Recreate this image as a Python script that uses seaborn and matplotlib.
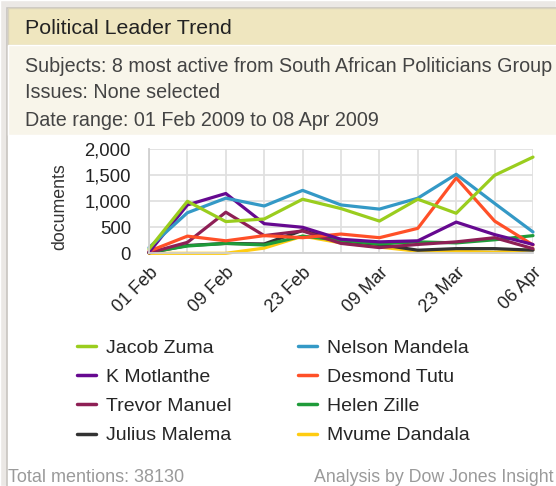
import matplotlib
matplotlib.use("Agg")
import matplotlib.pyplot as plt
from matplotlib.patches import Rectangle
from matplotlib.ticker import MultipleLocator, FuncFormatter
import numpy as np
import pandas as pd
import seaborn as sns

# weekly buckets (first one is the partial week starting Sunday 01 Feb)
WEEKS = ["01 Feb", "02 Feb", "09 Feb", "16 Feb", "23 Feb", "02 Mar",
         "09 Mar", "16 Mar", "23 Mar", "30 Mar", "06 Apr"]

zuma      = [80, 1000, 610, 660, 1040, 860, 620, 1040, 770, 1500, 1850]
mandela   = [110, 780, 1060, 910, 1210, 930, 850, 1060, 1520, 960, 410]
motlanthe = [20, 930, 1150, 570, 500, 270, 220, 240, 600, 360, 170]
tutu      = [40, 330, 240, 340, 300, 370, 300, 480, 1450, 620, 160]
manuel    = [10, 210, 790, 340, 430, 190, 110, 170, 220, 300, 90]
zille     = [20, 140, 190, 160, 330, 250, 180, 220, 200, 260, 340]
malema    = [10, 150, 190, 180, 440, 240, 170, 60, 90, 90, 60]
dandala   = [0, 0, 0, 100, 330, 200, 120, 40, 40, 20, 70]

SERIES = {
    "Jacob Zuma": zuma,
    "Nelson Mandela": mandela,
    "K Motlanthe": motlanthe,
    "Desmond Tutu": tutu,
    "Trevor Manuel": manuel,
    "Helen Zille": zille,
    "Julius Malema": malema,
    "Mvume Dandala": dandala,
}
COLOURS = {
    "Jacob Zuma": "#9ACD1E",
    "Nelson Mandela": "#3499C6",
    "K Motlanthe": "#660990",
    "Desmond Tutu": "#FF5028",
    "Trevor Manuel": "#8E1F55",
    "Helen Zille": "#1F9B3A",
    "Julius Malema": "#333333",
    "Mvume Dandala": "#FFCC11",
}

rows = []
for name, vals in SERIES.items():
    for i, v in enumerate(vals):
        rows.append({"pos": i, "week": WEEKS[i], "leader": name, "documents": v})
df = pd.DataFrame(rows)

sns.set_style("white")
plt.rcParams["font.family"] = ["Liberation Sans", "DejaVu Sans"]

W, H = 556, 486
fig = plt.figure(figsize=(W / 100, H / 100), dpi=100)
fig.patch.set_facecolor("white")


def box(x0, y0, x1, y1, colour, **kw):
    # pixel coords from top-left
    fig.patches.append(Rectangle((x0 / W, 1 - y1 / H), (x1 - x0) / W, (y1 - y0) / H,
                                 transform=fig.transFigure, facecolor=colour,
                                 zorder=-10, **kw))


box(0, 0, W, H, "#ebe8e5")
box(7, 8, W + 5, H + 5, "white", edgecolor="#c8c5c0", linewidth=1.2)
box(7.5, 8.5, W + 5, 45, "#efe6bf", edgecolor="#d8d2bc", linewidth=1)
box(7.5, 45.5, W + 5, 135, "#f8f5ea")

fig.text(25 / W, 1 - 28 / H, "Political Leader Trend", fontsize=15.4, color="#222222",
         va="center", ha="left")
info = ["Subjects: 8 most active from South African Politicians Group",
        "Issues: None selected",
        "Date range: 01 Feb 2009 to 08 Apr 2009"]
for k, line in enumerate(info):
    fig.text(25 / W, 1 - (66 + 27 * k) / H, line, fontsize=14.2, color="#444444",
             va="center", ha="left")

fig.text(8 / W, 1 - 477 / H, "Total mentions: 38130", fontsize=13, color="#9a9a9a",
         va="center", ha="left")
fig.text(314 / W, 1 - 477 / H, "Analysis by Dow Jones Insight", fontsize=12.8,
         color="#9a9a9a", va="center", ha="left")

ax = fig.add_axes([149 / W, 1 - 253.3 / H, (533 - 149) / W, (253.3 - 149.3) / H])
ax.set_facecolor("none")

order = list(SERIES.keys())[::-1]  # draw Zuma last so it sits on top
sns.lineplot(data=df, x="pos", y="documents", hue="leader", hue_order=order,
             palette=COLOURS, linewidth=2.3, ax=ax, legend=True)
for ln in ax.get_lines():
    ln.set_clip_on(False)

handles, labels = ax.get_legend_handles_labels()
ax.get_legend().remove()
lookup = dict(zip(labels, handles))
col_order = ["Jacob Zuma", "K Motlanthe", "Trevor Manuel", "Julius Malema",
             "Nelson Mandela", "Desmond Tutu", "Helen Zille", "Mvume Dandala"]
leg = fig.legend([lookup[n] for n in col_order], col_order, loc="upper left",
                 bbox_to_anchor=(77 / W, 1 - 339 / H), ncol=2, frameon=False,
                 fontsize=14, handlelength=1.0, handletextpad=0.5,
                 columnspacing=3.4, labelspacing=0.6, borderpad=0, borderaxespad=0)
for ln in leg.get_lines():
    ln.set_linewidth(2.5)

ax.set_xlim(0, len(WEEKS) - 1)
ax.set_ylim(0, 2000)
ax.set_xticks(range(0, len(WEEKS), 2))
ax.set_xticklabels(WEEKS[::2], rotation=45, ha="right", rotation_mode="anchor",
                   fontsize=13, color="#222222")
ax.set_xticks(range(len(WEEKS)), minor=True)
ax.yaxis.set_major_locator(MultipleLocator(500))
ax.yaxis.set_minor_locator(MultipleLocator(100))
ax.yaxis.set_major_formatter(FuncFormatter(lambda v, _: f"{int(v):,}"))
ax.tick_params(axis="y", which="both", labelsize=13.3, labelcolor="#222222",
               colors="#c8c8c8", length=5, width=1, pad=8)
ax.tick_params(axis="x", which="both", labelcolor="#222222",
               colors="#c8c8c8", length=4, width=1, pad=4)
ax.tick_params(axis="x", which="minor", length=0)
ax.grid(True, axis="x", which="both", color="#e0e0e0", linewidth=1.3)
ax.grid(True, axis="y", which="major", color="#e0e0e0", linewidth=1.3)
ax.set_axisbelow(True)
for s in ["top", "right"]:
    ax.spines[s].set_visible(False)
for s in ["left", "bottom"]:
    ax.spines[s].set_color("#d0d0d0")
    ax.spines[s].set_linewidth(1.3)

ax.set_xlabel("")
ax.set_ylabel("")
fig.text(60 / W, 1 - 207 / H, "documents", rotation=90, fontsize=12.8,
         color="#333333", va="center", ha="center")

fig.savefig("out.png", dpi=100)
